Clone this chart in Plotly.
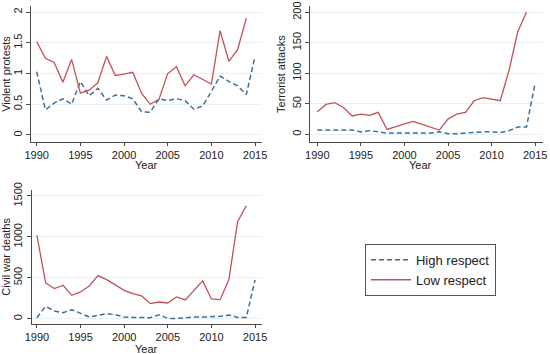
import plotly.graph_objects as go

years = list(range(1990, 2016))
years_low = list(range(1990, 2015))

protest_high = [1.03, 0.41, 0.52, 0.59, 0.50, 0.87, 0.64, 0.76, 0.57, 0.65, 0.64, 0.59, 0.38,
                0.37, 0.59, 0.56, 0.59, 0.56, 0.42, 0.47, 0.71, 0.96, 0.87, 0.80, 0.66, 1.28]
protest_low = [1.52, 1.25, 1.18, 0.86, 1.23, 0.68, 0.73, 0.85, 1.28, 0.97, 0.99, 1.02, 0.68,
               0.50, 0.58, 1.00, 1.11, 0.80, 0.98, 0.91, 0.83, 1.70, 1.20, 1.39, 1.90]

terror_high = [7, 7, 7, 7, 7, 4, 6, 4, 2, 2, 2, 2, 2, 2, 4, 1, 1, 2, 4, 4, 4, 3, 6, 12, 12, 84]
terror_low = [37, 49, 52, 44, 30, 33, 31, 36, 8, 13, 17, 21, 16, 11, 7, 25, 33, 36, 55, 60,
              58, 55, 105, 168, 200]

deaths_high = [12, 151, 94, 74, 110, 61, 20, 41, 61, 49, 20, 16, 12, 12, 49, 4, 4, 16, 20, 20,
               20, 29, 45, 16, 16, 475]
deaths_low = [1018, 437, 368, 409, 286, 327, 400, 527, 478, 409, 347, 306, 278, 184, 204, 192,
              266, 229, 339, 462, 241, 233, 478, 1185, 1381]

x_ticks = [1990, 1995, 2000, 2005, 2010, 2015]
panels = [
    ("Violent protests", protest_high, protest_low, [0, 0.5, 1, 1.5, 2], ["0", "0.5", "1", "1.5", "2"], [-0.114, 2.1]),
    ("Terrorist attacks", terror_high, terror_low, [0, 50, 100, 150, 200], ["0", "50", "100", "150", "200"], [-12.6, 210]),
    ("Civil war deaths", deaths_high, deaths_low, [0, 500, 1000, 1500], ["0", "500", "1000", "1500"], [-61, 1573]),
]

blue = "#3d7199"
red = "#c0525a"
axis_color = "#4a4a4a"
grid_color = "#e6f0f2"
text_color = "#222"
font_family = "Liberation Sans, Arial, sans-serif"

domains = [
    ([0.0564, 0.4764], [0.5989, 0.983], [1989.35, 2015.8]),
    ([0.5636, 0.9873], [0.5989, 0.9825], [1989.16, 2015.9]),
    ([0.0576, 0.4764], [0.0856, 0.4633], [1989.4, 2015.8]),
]
year_title_pos = [(0.2655, 0.535), (0.765, 0.535), (0.2655, 0.0155)]

fig = go.Figure()
layout = {}
annotations = []
for i, (title, hi, lo, yt, ytl, yr) in enumerate(panels):
    n = "" if i == 0 else str(i + 1)
    xd, yd, xr = domains[i]
    fig.add_trace(go.Scatter(x=years, y=hi, mode="lines", name="High respect",
                             line=dict(color=blue, width=1.5, dash="5px,3px"),
                             xaxis="x" + n, yaxis="y" + n, showlegend=(i == 0)))
    fig.add_trace(go.Scatter(x=years_low, y=lo, mode="lines", name="Low respect",
                             line=dict(color=red, width=1.3),
                             xaxis="x" + n, yaxis="y" + n, showlegend=(i == 0)))
    layout["xaxis" + n] = dict(
        domain=xd, anchor="y" + n, range=xr, tickvals=x_ticks, automargin=False,
        ticktext=[str(v) for v in x_ticks], showgrid=False, zeroline=False,
        showline=True, linecolor=axis_color, linewidth=1, ticks="outside",
        ticklen=3, tickcolor=axis_color, tickfont=dict(size=11, color=text_color),
    )
    layout["yaxis" + n] = dict(
        domain=yd, anchor="x" + n, range=yr, tickvals=yt, ticktext=ytl, automargin=False,
        showgrid=True, gridcolor=grid_color, gridwidth=1, zeroline=False,
        showline=True, linecolor=axis_color, linewidth=1, ticks="outside",
        ticklen=4, tickcolor=axis_color, tickangle=-90,
        tickfont=dict(size=11, color=text_color),
        title=dict(text=title, font=dict(size=11, color=text_color), standoff=2),
    )
    ax, ay = year_title_pos[i]
    annotations.append(dict(text="Year", x=ax, y=ay, xref="paper", yref="paper",
                            xanchor="center", yanchor="middle", showarrow=False,
                            font=dict(size=11, color=text_color)))

fig.update_layout(
    width=550, height=354, margin=dict(l=0, r=0, t=0, b=0),
    paper_bgcolor="white", plot_bgcolor="white",
    font=dict(family=font_family, color=text_color),
    legend=dict(x=0.6636, y=0.311, xanchor="left", yanchor="top",
                bordercolor="#555", borderwidth=1, bgcolor="white",
                font=dict(size=13, color=text_color), tracegroupgap=0,
                itemwidth=40),
    annotations=annotations,
    **layout,
)

fig.write_html("out.html", config={"displayModeBar": False},
               post_script="document.body.style.margin='0';")
